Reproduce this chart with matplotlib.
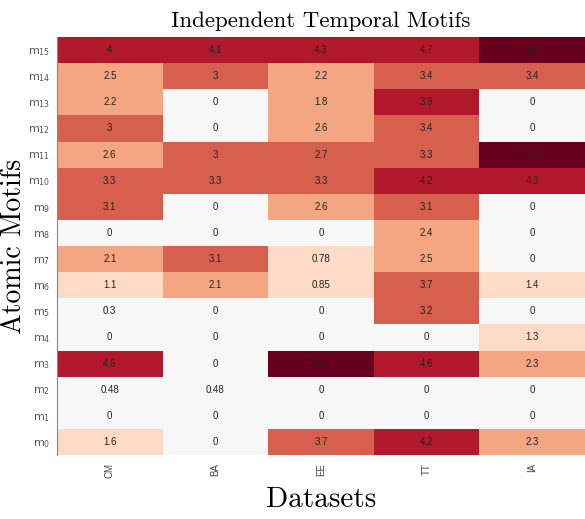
import matplotlib
matplotlib.use("Agg")
import matplotlib.pyplot as plt
from matplotlib.colors import ListedColormap, Normalize
import numpy as np

datasets = ["CM", "BA", "EE", "TT", "IA"]
motifs = ["m$_{%d}$" % i for i in range(16)]

# rows m0 .. m15, columns CM BA EE TT IA
scores = np.array([
    [1.6, 0, 3.7, 4.2, 2.3],     # m0
    [0, 0, 0, 0, 0],             # m1
    [0.48, 0.48, 0, 0, 0],       # m2
    [4.6, 0, 5.5, 4.6, 2.3],     # m3
    [0, 0, 0, 0, 1.3],           # m4
    [0.3, 0, 0, 3.2, 0],         # m5
    [1.1, 2.1, 0.85, 3.7, 1.4],  # m6
    [2.1, 3.1, 0.78, 2.5, 0],    # m7
    [0, 0, 0, 2.4, 0],           # m8
    [3.1, 0, 2.6, 3.1, 0],       # m9
    [3.3, 3.3, 3.3, 4.2, 4.3],   # m10
    [2.6, 3, 2.7, 3.3, 5.3],     # m11
    [3, 0, 2.6, 3.4, 0],         # m12
    [2.2, 0, 1.8, 3.9, 0],       # m13
    [2.5, 3, 2.2, 3.4, 3.4],     # m14
    [4, 4.1, 4.3, 4.7, 5.9],     # m15
])

rdbu = ["#053061", "#2166ac", "#4393c3", "#92c5de", "#d1e5f0", "#f7f7f7",
        "#fddbc7", "#f4a582", "#d6604d", "#b2182b", "#67001f"]
cmap = ListedColormap(rdbu)
vmax = 5.9
norm = Normalize(vmin=-vmax, vmax=vmax)

fig = plt.figure(figsize=(5.85, 5.19), dpi=100)
ax = fig.add_axes([57 / 585, (519 - 455) / 519, 528 / 585, 418 / 519])

ax.pcolormesh(np.arange(len(datasets) + 1), np.arange(len(motifs) + 1), scores,
              cmap=cmap, norm=norm)
ax.set_xlim(0, len(datasets))
ax.set_ylim(0, len(motifs))

for r in range(scores.shape[0]):
    for c in range(scores.shape[1]):
        ax.text(c + 0.5, r + 0.5, "%.2g" % scores[r, c], ha="center", va="center",
                fontsize=7, color="#222222",
                family=["Liberation Sans Narrow", "Liberation Sans"])

ax.set_xticks(np.arange(len(datasets)) + 0.5)
ax.set_xticklabels(datasets, rotation=90, fontsize=7, color="#444444",
                   family="Liberation Sans")
ax.set_yticks(np.arange(len(motifs)) + 0.5)
ax.set_yticklabels(motifs, fontsize=8, color="#555555")
ax.tick_params(axis="y", length=0, pad=5)
ax.tick_params(axis="x", length=0, pad=6)
for s in ["top", "right", "bottom"]:
    ax.spines[s].set_visible(False)
ax.spines["left"].set_color("#888888")
ax.spines["left"].set_linewidth(0.8)

ax.set_title("Independent Temporal Motifs", fontsize=16.5, family="cmr10", pad=7)
ax.set_xlabel("Datasets", fontsize=21, family="cmr10", labelpad=6)
fig.text(14 / 585, 1 - 246 / 519, "Atomic Motifs", rotation=90, ha="center",
         va="center", fontsize=20, family="cmr10")

fig.savefig("out.png", dpi=100)
